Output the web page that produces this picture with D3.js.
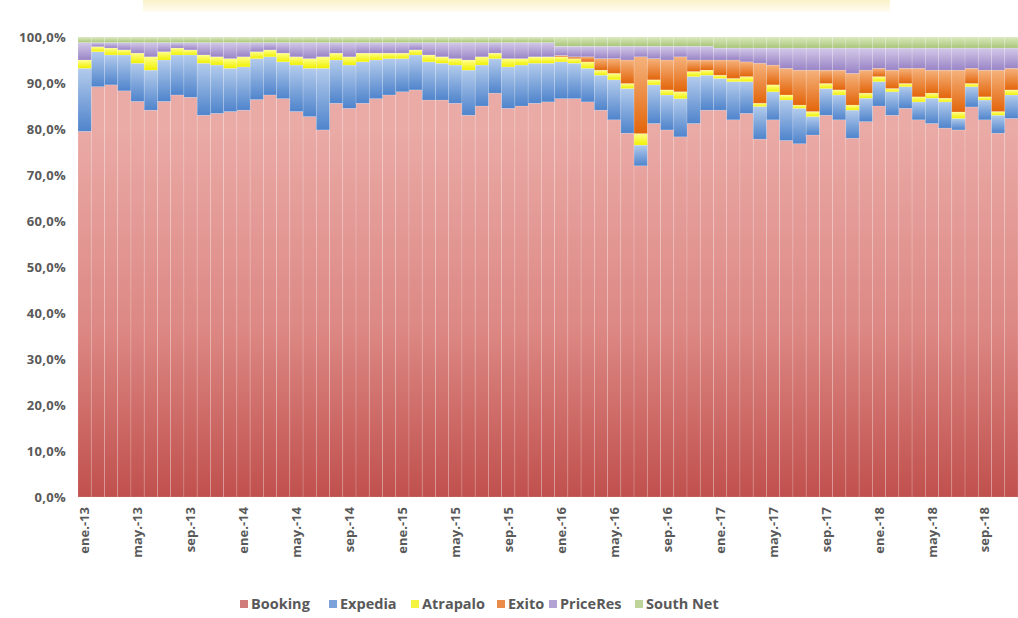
<!DOCTYPE html>
<html>
<head>
<meta charset="utf-8">
<script src="https://cdn.jsdelivr.net/npm/d3@7"></script>
<style>
  body { margin: 0; background: #fff; }
  svg { display: block; }
  .tick text { font-family: "Open Sans", "Liberation Sans", sans-serif; font-weight: 700; fill: #595959; }
</style>
</head>
<body>
<svg id="chart"></svg>
<script>
// month categories ene.-13 .. nov.-18
const monthNames = ['ene.', 'feb.', 'mar.', 'abr.', 'may.', 'jun.', 'jul.', 'ago.', 'sep.', 'oct.', 'nov.', 'dic.'];
const years = ['13', '14', '15', '16', '17', '18'];
const months = [];
years.forEach(y => monthNames.forEach(m => months.push(m + '-' + y)));
months.length = 71;

const seriesNames = ['Booking', 'Expedia', 'Atrapalo', 'Exito', 'PriceRes', 'South Net'];

// shares per month (%)
const booking = [79.5, 89.2, 89.6, 88.3, 86.0, 84.1, 86.0, 87.4, 86.9, 83.0, 83.4, 83.8,
  84.1, 86.4, 87.4, 86.6, 83.8, 82.7, 79.8, 85.6, 84.5, 85.6, 86.6, 87.4,
  88.1, 88.5, 86.3, 86.3, 85.6, 83.0, 85.0, 87.8, 84.5, 85.0, 85.6, 85.9,
  86.6, 86.6, 85.9, 84.1, 82.0, 79.1, 72.0, 81.2, 79.8, 78.3, 81.2, 84.1,
  84.1, 82.0, 83.4, 77.8, 82.0, 77.5, 76.8, 78.7, 83.0, 82.0, 78.0, 81.6,
  85.0, 83.0, 84.5, 82.0, 81.2, 80.2, 79.8, 84.8, 82.0, 79.1, 82.3];
const expedia = [13.7, 7.6, 6.5, 7.8, 8.3, 8.7, 9.0, 8.7, 9.2, 11.3, 10.5, 9.4,
  9.4, 8.9, 8.3, 8.0, 10.1, 10.5, 13.4, 9.4, 9.4, 9.0, 8.4, 7.9,
  7.2, 7.6, 8.3, 8.0, 8.3, 9.8, 8.9, 7.5, 9.0, 8.9, 8.7, 8.4,
  8.0, 7.7, 7.3, 7.6, 8.7, 9.7, 4.5, 8.4, 7.6, 8.3, 10.2, 7.6,
  6.9, 8.3, 6.9, 7.1, 6.1, 8.8, 7.7, 4.0, 5.8, 5.4, 6.1, 5.1,
  5.3, 5.1, 4.7, 3.9, 5.5, 5.7, 2.5, 4.4, 4.3, 3.9, 5.1];
const atrapalo = [1.8, 1.1, 1.5, 1.1, 2.2, 2.9, 1.8, 1.5, 1.1, 1.8, 1.8, 2.1,
  2.2, 1.5, 1.5, 1.9, 1.8, 2.1, 2.5, 1.5, 1.8, 1.9, 1.5, 1.2,
  1.2, 1.1, 1.5, 1.4, 1.4, 2.2, 1.8, 1.2, 1.8, 1.4, 1.4, 1.4,
  1.1, 1.0, 1.4, 1.1, 1.4, 1.1, 2.5, 1.1, 1.1, 1.5, 1.1, 1.1,
  0.7, 0.7, 1.1, 0.7, 1.5, 1.1, 0.7, 1.1, 1.1, 1.1, 1.1, 1.1,
  1.1, 0.7, 0.7, 1.1, 1.1, 0.8, 1.4, 0.7, 0.7, 0.8, 1.1];
const exito = [0, 0, 0, 0, 0, 0, 0, 0, 0, 0, 0, 0,
  0, 0, 0, 0, 0, 0, 0, 0, 0, 0, 0, 0,
  0, 0, 0, 0, 0, 0, 0, 0, 0, 0, 0, 0,
  0.3, 0.4, 1.1, 2.5, 3.2, 5.1, 16.7, 4.6, 6.5, 7.6, 2.5, 2.2,
  3.3, 4.0, 3.2, 8.7, 4.3, 5.8, 7.6, 9.0, 2.9, 4.3, 6.9, 5.0,
  1.8, 4.0, 3.3, 6.2, 5.0, 6.1, 9.1, 3.3, 5.8, 9.0, 4.7];
const priceRes = [3.8, 0.9, 1.2, 1.6, 2.3, 3.1, 2.0, 1.2, 1.6, 2.7, 3.1, 3.5,
  3.1, 2.0, 1.6, 2.3, 3.1, 3.5, 3.1, 2.3, 3.1, 2.3, 2.3, 2.3,
  2.3, 1.6, 2.7, 3.1, 3.5, 3.8, 3.1, 2.3, 3.5, 3.5, 3.1, 3.1,
  2.0, 2.3, 2.3, 2.7, 2.7, 3.0, 2.3, 2.7, 3.0, 2.3, 3.0, 3.0,
  2.6, 2.6, 3.0, 3.3, 3.7, 4.4, 4.8, 4.8, 4.8, 4.8, 5.5, 4.8,
  4.4, 4.8, 4.4, 4.4, 4.8, 4.8, 4.8, 4.4, 4.8, 4.8, 4.4];
const southNet = [1.2, 1.2, 1.2, 1.2, 1.2, 1.2, 1.2, 1.2, 1.2, 1.2, 1.2, 1.2,
  1.2, 1.2, 1.2, 1.2, 1.2, 1.2, 1.2, 1.2, 1.2, 1.2, 1.2, 1.2,
  1.2, 1.2, 1.2, 1.2, 1.2, 1.2, 1.2, 1.2, 1.2, 1.2, 1.2, 1.2,
  2.0, 2.0, 2.0, 2.0, 2.0, 2.0, 2.0, 2.0, 2.0, 2.0, 2.0, 2.0,
  2.4, 2.4, 2.4, 2.4, 2.4, 2.4, 2.4, 2.4, 2.4, 2.4, 2.4, 2.4,
  2.4, 2.4, 2.4, 2.4, 2.4, 2.4, 2.4, 2.4, 2.4, 2.4, 2.4];

const yTicks = [0, 0.1, 0.2, 0.3, 0.4, 0.5, 0.6, 0.7, 0.8, 0.9, 1];

// gradient colours per series: [top, bottom]
const colors = {
  'Booking': ['#f2b6b2', '#c0504d'],
  'Expedia': ['#b3cbec', '#4f84cc'],
  'Atrapalo': ['#ffff8c', '#f0f000'],
  'Exito': ['#f5b27c', '#e3650a'],
  'PriceRes': ['#d3c9e8', '#9984c6'],
  'South Net': ['#dbe9bf', '#a9c67a']
};

const width = 1018;
const height = 618;
const margin = { top: 37, right: 0, bottom: 121, left: 78 };

const svg = d3.select('#chart')
  .attr('width', width)
  .attr('height', height);

const defs = svg.append('defs');

// cut-off title strip at the top
const titleGrad = defs.append('linearGradient')
  .attr('id', 'title-grad').attr('x1', 0).attr('y1', 0).attr('x2', 0).attr('y2', 1);
titleGrad.append('stop').attr('offset', '0%').attr('stop-color', '#fbf1c8');
titleGrad.append('stop').attr('offset', '100%').attr('stop-color', '#fffdf3');
svg.append('rect')
  .attr('x', 143).attr('y', 0).attr('width', 747).attr('height', 12)
  .attr('fill', 'url(#title-grad)');

const table = months.map((m, i) => ({
  month: m,
  'Booking': booking[i],
  'Expedia': expedia[i],
  'Atrapalo': atrapalo[i],
  'Exito': exito[i],
  'PriceRes': priceRes[i],
  'South Net': southNet[i]
}));

const stack = d3.stack()
  .keys(seriesNames)
  .offset(d3.stackOffsetExpand);
const layers = stack(table);

const xScale = d3.scaleBand()
  .domain(months)
  .range([margin.left, width - margin.right])
  .padding(0);

const yScale = d3.scaleLinear()
  .domain([0, 1])
  .range([height - margin.bottom, margin.top]);

// gradients, one per series (each segment gets its own light-to-dark fade)
seriesNames.forEach((name, i) => {
  const g = defs.append('linearGradient')
    .attr('id', 'grad-' + i)
    .attr('x1', 0).attr('y1', 0).attr('x2', 0).attr('y2', 1);
  g.append('stop').attr('offset', '0%').attr('stop-color', colors[name][0]);
  g.append('stop').attr('offset', '100%').attr('stop-color', colors[name][1]);
});

// Booking is one big area, so its fade runs across the plot height
const bookGrad = defs.append('linearGradient')
  .attr('id', 'grad-book')
  .attr('gradientUnits', 'userSpaceOnUse')
  .attr('x1', 0).attr('y1', yScale(0.8)).attr('x2', 0).attr('y2', yScale(0));
bookGrad.append('stop').attr('offset', '0%').attr('stop-color', '#eaaaa6');
bookGrad.append('stop').attr('offset', '55%').attr('stop-color', '#dc8783');
bookGrad.append('stop').attr('offset', '100%').attr('stop-color', '#c0504d');

svg.append('g')
  .selectAll('g')
  .data(layers)
  .enter()
  .append('g')
  .attr('fill', (d, i) => i === 0 ? 'url(#grad-book)' : 'url(#grad-' + i + ')')
  .selectAll('rect')
  .data(d => d)
  .enter()
  .append('rect')
  .attr('x', d => xScale(d.data.month))
  .attr('y', d => yScale(d[1]))
  .attr('width', xScale.bandwidth())
  .attr('height', d => Math.max(0, yScale(d[0]) - yScale(d[1])))
  .attr('stroke', 'rgba(255,255,255,0.22)')
  .attr('stroke-width', 0.7);

// axes
const yAxis = d3.axisLeft(yScale)
  .tickValues(yTicks)
  .tickSize(0)
  .tickPadding(12)
  .tickFormat(d => (d * 100).toFixed(1).replace('.', ',') + '%');

svg.append('g')
  .attr('class', 'y-axis')
  .attr('transform', `translate(${margin.left}, 0)`)
  .call(yAxis)
  .call(g => g.select('.domain').remove())
  .selectAll('text')
  .style('font-size', '13px')
  .style('letter-spacing', '0.3px');

const xAxis = d3.axisBottom(xScale)
  .tickValues(months.filter((m, i) => i % 4 === 0))
  .tickSize(0)
  .tickPadding(0);

svg.append('g')
  .attr('class', 'x-axis')
  .attr('transform', `translate(0, ${yScale(0)})`)
  .call(xAxis)
  .call(g => g.select('.domain').remove())
  .selectAll('text')
  .style('font-size', '13px')
  .attr('text-anchor', 'end')
  .attr('dy', '0.35em')
  .attr('transform', 'translate(0, 10) rotate(-90)')
  .attr('x', 0)
  .attr('y', 0);

// legend
const legendX = [240, 329, 411, 497, 549, 635];
const legend = svg.append('g')
  .attr('class', 'legend')
  .attr('transform', 'translate(0, 604)');

seriesNames.forEach((name, i) => {
  legend.append('rect')
    .attr('x', legendX[i])
    .attr('y', -4)
    .attr('width', 8)
    .attr('height', 8)
    .attr('fill', colors[name][1])
    .attr('opacity', 0.75);
  legend.append('text')
    .attr('x', legendX[i] + 11)
    .attr('y', 0)
    .attr('dy', '0.35em')
    .style('font-family', '"Open Sans", "Liberation Sans", sans-serif')
    .style('font-weight', 700)
    .style('font-size', '14.5px')
    .style('fill', '#595959')
    .text(name);
});
</script>
</body>
</html>
